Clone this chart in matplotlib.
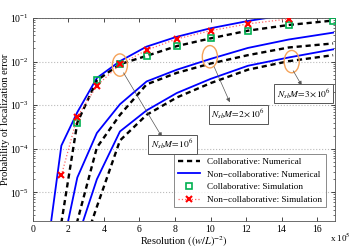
import matplotlib
matplotlib.use("Agg")
import matplotlib.pyplot as plt
import numpy as np
from matplotlib.patches import Ellipse

plt.rcParams['font.family'] = ['Liberation Serif', 'DejaVu Serif']
plt.rcParams['mathtext.fontset'] = 'stix'

nan = np.nan

# Resolution ((w/L)^-2), in units of 1e5
res = [0.9, 1.6, 2.5, 3.6, 4.9, 6.4, 8.1, 10.0, 12.1, 14.4, 16.9]

# Numerical curves, N_sb M = 1e6, 2e6, 3e6
collab_1 = [nan, 2.0e-6, 4.0e-4, 3.7e-3, 8.7e-3, 1.35e-2, 2.26e-2, 3.4e-2, 5.1e-2, 6.9e-2, 8.7e-2]
noncol_1 = [9e-7, 1.18e-4, 6.9e-4, 4.2e-3, 1.02e-2, 2.2e-2, 3.7e-2, 5.8e-2, 8.5e-2, 1.2e-1, 1.6e-1]
collab_2 = [nan, 1e-8, 2.2e-6, 1.07e-4, 6.0e-4, 3.0e-3, 5.5e-3, 9.0e-3, 1.4e-2, 2.1e-2, 2.6e-2]
noncol_2 = [nan, 4e-7, 2.2e-5, 2.3e-4, 1.05e-3, 3.5e-3, 6.5e-3, 1.15e-2, 2.05e-2, 3.2e-2, 4.6e-2]
collab_3 = [nan, nan, 2.3e-7, 4.7e-6, 1.55e-4, 6.0e-4, 1.5e-3, 3.2e-3, 6.5e-3, 1.02e-2, 1.4e-2]
noncol_3 = [nan, nan, 8.7e-7, 2.0e-5, 2.5e-4, 7.6e-4, 1.9e-3, 4.0e-3, 8.0e-3, 1.24e-2, 1.9e-2]

# Simulation, N_sb M = 1e6
sim_res = [1.6, 2.5, 3.6, 4.9, 6.4, 8.1, 10.0, 12.1, 14.4, 16.9]
collab_sim = [nan, 4.0e-4, 3.7e-3, 8.7e-3, 1.35e-2, 2.26e-2, 3.4e-2, 5.1e-2, 6.9e-2, 8.7e-2]
noncol_sim = [2.45e-5, 5.4e-4, 2.8e-3, 8.6e-3, 1.83e-2, 3.3e-2, 5.1e-2, 7.3e-2, 9.5e-2, nan]

labels = ['Collaborative: Numerical', 'Non\u2212collaborative: Numerical',
          'Collaborative: Simulation', 'Non\u2212collaborative: Simulation']
group_labels = [r'$N_{sb}M\!=\!10^6$', r'$N_{sb}M\!=\!2\!\times\!10^6$', r'$N_{sb}M\!=\!3\!\times\!10^6$']

fig = plt.figure(figsize=(3.54, 2.49), dpi=100)
ax = fig.add_axes([0.093, 0.112, 0.853, 0.816])

dash = (0, (2.2, 1.6))
for i, (c, n) in enumerate([(collab_1, noncol_1), (collab_2, noncol_2), (collab_3, noncol_3)]):
    ax.plot(res, c, color='k', lw=1.7, linestyle=dash, label=labels[0] if i == 0 else None, zorder=3)
    ax.plot(res, n, color='#0000FF', lw=1.3, label=labels[1] if i == 0 else None, zorder=2)

ax.plot(sim_res, collab_sim, linestyle='none', marker='s', ms=4, mfc='none', mec='#00B050',
        mew=1.2, label=labels[2], zorder=4)
ax.plot(sim_res, noncol_sim, linestyle=':', color='#FF6666', lw=0.9, marker='x', ms=5,
        mec='#FF0000', mew=1.5, label=labels[3], zorder=4)

ax.set_yscale('log')
ax.set_xlim(0, 17)
ax.set_ylim(2.2e-6, 1e-1)
ax.set_xticks([0, 2, 4, 6, 8, 10, 12, 14, 16])
ax.set_yticks([1e-5, 1e-4, 1e-3, 1e-2, 1e-1])
ax.tick_params(which='both', direction='in', top=True, right=True, labelsize=7, pad=3)
ax.tick_params(which='major', length=3, width=0.5)
ax.tick_params(which='minor', length=1.5, width=0.4)
ax.yaxis.grid(True, which='major', linestyle=':', color='#BBBBBB', lw=0.8)
for s in ax.spines.values():
    s.set_linewidth(0.6)
    s.set_color('#555555')

ax.set_xlabel(r'Resolution $((w/L)^{-2})$', fontsize=7.5, labelpad=0)
ax.set_ylabel('Probability of localization error', fontsize=7.5, labelpad=0)
fig.text(0.99, 0.02, r'x 10$^5$', fontsize=6.5, ha='right', va='bottom')

# ellipses, arrows and group boxes (axes fraction)
ell_pos = [(0.288, 0.768), (0.586, 0.809), (0.857, 0.785)]
arrow_start = [(0.300, 0.730), (0.600, 0.760), (0.862, 0.740)]
arrow_end = [(0.427, 0.415), (0.652, 0.585), (0.890, 0.668)]
box_pos = [(0.462, 0.377), (0.680, 0.527), (0.897, 0.626)]
for i in range(3):
    ax.add_patch(Ellipse(ell_pos[i], 0.05, 0.11, transform=ax.transAxes, fill=False,
                         ec='#F5A35A', lw=1.0, zorder=5))
    ax.annotate('', xy=arrow_end[i], xytext=arrow_start[i], xycoords='axes fraction',
                textcoords='axes fraction',
                arrowprops=dict(arrowstyle='-|>', color='#555555', lw=0.5,
                                mutation_scale=6, shrinkA=0, shrinkB=0), zorder=5)
    ax.text(box_pos[i][0], box_pos[i][1], group_labels[i], transform=ax.transAxes,
            fontsize=6.8, ha='center', va='center', zorder=6,
            bbox=dict(boxstyle='square,pad=0.3', fc='white', ec='#555555', lw=0.7))

leg = ax.legend(loc='lower right', fontsize=6.6, frameon=True, fancybox=False,
                edgecolor='#555555', handlelength=2.4, borderpad=0.4, labelspacing=0.45,
                bbox_to_anchor=(0.985, 0.045))
leg.get_frame().set_linewidth(0.6)

fig.savefig('out.png', dpi=100)
